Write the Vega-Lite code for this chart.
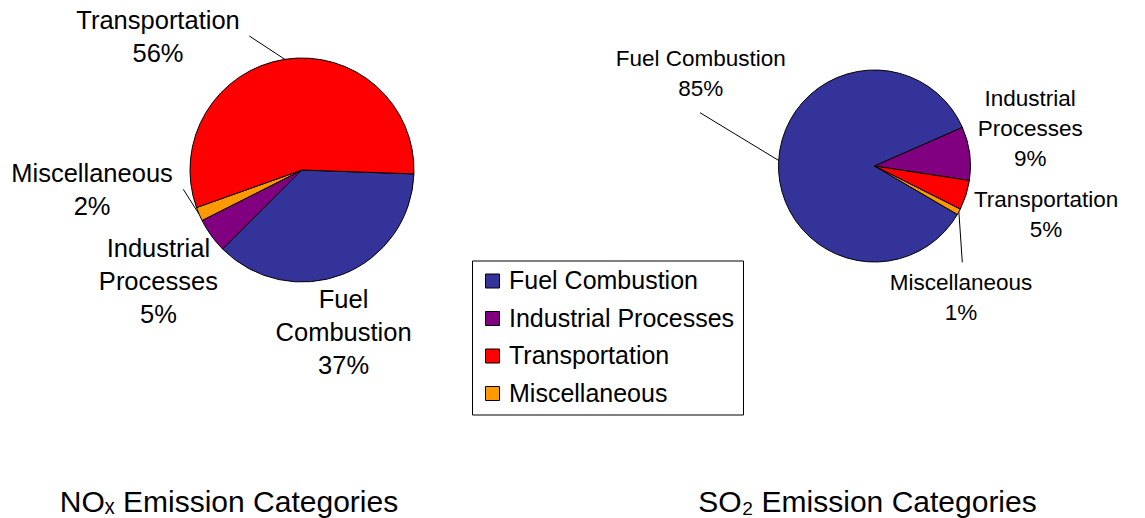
{
  "$schema": "https://vega.github.io/schema/vega-lite/v6.json",
  "background": "white",
  "padding": 0,
  "spacing": 0,
  "bounds": "flush",
  "config": {"view": {"stroke": null}, "font": "Liberation Sans"},
  "datasets": {
    "nox": [
      {"category": "Fuel Combustion", "value": 37},
      {"category": "Industrial Processes", "value": 5},
      {"category": "Miscellaneous", "value": 2},
      {"category": "Transportation", "value": 56}
    ],
    "so2": [
      {"category": "Fuel Combustion", "value": 85},
      {"category": "Industrial Processes", "value": 9},
      {"category": "Transportation", "value": 5},
      {"category": "Miscellaneous", "value": 1}
    ]
  },
  "resolve": {"scale": {"theta": "independent", "x": "independent", "y": "independent"}},
  "hconcat": [
    {
      "width": 604,
      "height": 340,
      "data": {"name": "nox"},
      "transform": [
        {"window": [{"op": "row_number", "as": "idx"}]},
        {"stack": "value", "groupby": [], "sort": [{"field": "idx", "order": "ascending"}], "as": ["v0", "v1"]},
        {"calculate": "(datum.v0 + datum.v1) / 2", "as": "mid"},
        {"calculate": "1.6057 + datum.mid * PI / 50", "as": "ang"},
        {"calculate": "112 * sin(datum.ang)", "as": "ex"},
        {"calculate": "-112 * cos(datum.ang)", "as": "ey"},
        {"calculate": "replace(datum.category, ' ', '|') + '|' + datum.value + '%'", "as": "label"}
      ],
      "title": {"text": "NOₓ Emission Categories", "orient": "bottom", "frame": "group", "anchor": "middle", "offset": 132.6, "dx": -73, "baseline": "alphabetic", "fontSize": 30, "fontWeight": "normal", "color": "black"},
      "layer": [
        {
          "mark": {"type": "arc", "outerRadius": 112, "stroke": "black", "strokeWidth": 1},
          "encoding": {
            "theta": {"field": "v0", "type": "quantitative", "stack": null, "scale": {"domain": [0, 100], "range": [1.6057, 7.8889]}},
            "theta2": {"field": "v1"},
            "color": {
              "field": "category", "type": "nominal",
              "scale": {"domain": ["Fuel Combustion", "Industrial Processes", "Transportation", "Miscellaneous"], "range": ["#333399", "#800080", "#FF0000", "#FF9900"]},
              "legend": {"title": null, "orient": "none", "legendX": 472, "legendY": 260.5, "symbolType": "square", "symbolSize": 196, "symbolStrokeColor": "black", "symbolStrokeWidth": 1, "labelFontSize": 25, "labelColor": "black", "strokeColor": "black", "fillColor": "white", "padding": 8, "rowPadding": 11.5, "labelOffset": 4, "labelLimit": 400}
            }
          }
        },
        {
          "transform": [{"filter": "datum.category == 'Fuel Combustion'"}],
          "mark": {"type": "text", "radius": 166, "dx": -19, "dy": -25, "fontSize": 25.5, "lineHeight": 33, "lineBreak": "|", "align": "center", "baseline": "middle", "color": "black"},
          "encoding": {"theta": {"field": "mid", "type": "quantitative", "stack": null}, "text": {"field": "label"}}
        },
        {
          "transform": [{"filter": "datum.category == 'Industrial Processes'"}],
          "mark": {"type": "text", "radius": 182, "dx": 4, "dy": -27.5, "fontSize": 25.5, "lineHeight": 33, "lineBreak": "|", "align": "center", "baseline": "middle", "color": "black"},
          "encoding": {"theta": {"field": "mid", "type": "quantitative", "stack": null}, "text": {"field": "label"}}
        },
        {
          "transform": [{"filter": "datum.category == 'Miscellaneous'"}],
          "mark": {"type": "text", "radius": 211, "dx": -16, "dy": -79, "fontSize": 25.5, "lineHeight": 33, "lineBreak": "|", "align": "center", "baseline": "middle", "color": "black"},
          "encoding": {"theta": {"field": "mid", "type": "quantitative", "stack": null}, "text": {"field": "label"}}
        },
        {
          "transform": [{"filter": "datum.category == 'Transportation'"}],
          "mark": {"type": "text", "radius": 196, "dx": -114, "dy": 44.5, "fontSize": 25.5, "lineHeight": 33, "lineBreak": "|", "align": "center", "baseline": "middle", "color": "black"},
          "encoding": {"theta": {"field": "mid", "type": "quantitative", "stack": null}, "text": {"field": "label"}}
        },
        {
          "transform": [{"filter": "datum.category == 'Transportation'"}],
          "mark": {"type": "rule", "color": "black", "strokeWidth": 1},
          "encoding": {
            "x": {"field": "ex", "type": "quantitative", "scale": {"domain": [-302, 302], "nice": false, "zero": false}, "axis": null},
            "y": {"field": "ey", "type": "quantitative", "scale": {"domain": [-170, 170], "nice": false, "zero": false, "reverse": true}, "axis": null},
            "x2": {"datum": -52.7},
            "y2": {"datum": -134}
          }
        },
        {
          "transform": [{"filter": "datum.category == 'Miscellaneous'"}],
          "mark": {"type": "rule", "color": "black", "strokeWidth": 1},
          "encoding": {
            "x": {"field": "ex", "type": "quantitative"},
            "y": {"field": "ey", "type": "quantitative"},
            "x2": {"datum": -118.7},
            "y2": {"datum": 19.3}
          }
        }
      ]
    },
    {
      "width": 541,
      "height": 332,
      "data": {"name": "so2"},
      "transform": [
        {"window": [{"op": "row_number", "as": "idx"}]},
        {"stack": "value", "groupby": [], "sort": [{"field": "idx", "order": "ascending"}], "as": ["v0", "v1"]},
        {"calculate": "(datum.v0 + datum.v1) / 2", "as": "mid"},
        {"calculate": "2.0996 + datum.mid * PI / 50", "as": "ang"},
        {"calculate": "96 * sin(datum.ang)", "as": "ex"},
        {"calculate": "-96 * cos(datum.ang)", "as": "ey"},
        {"calculate": "(datum.category == 'Industrial Processes' ? 'Industrial|Processes' : datum.category) + '|' + datum.value + '%'", "as": "label"}
      ],
      "title": {"text": "SO₂ Emission Categories", "orient": "bottom", "frame": "group", "anchor": "middle", "offset": 179.7, "dx": -7, "baseline": "alphabetic", "fontSize": 30, "fontWeight": "normal", "color": "black"},
      "layer": [
        {
          "mark": {"type": "arc", "outerRadius": 96, "stroke": "black", "strokeWidth": 1},
          "encoding": {
            "theta": {"field": "v0", "type": "quantitative", "stack": null, "scale": {"domain": [0, 100], "range": [2.0996, 8.3828]}},
            "theta2": {"field": "v1"},
            "color": {"field": "category", "type": "nominal"}
          }
        },
        {
          "transform": [{"filter": "datum.category == 'Fuel Combustion'"}],
          "mark": {"type": "text", "radius": 175, "dx": 1, "dy": -96.7, "fontSize": 22.5, "lineHeight": 30, "lineBreak": "|", "align": "center", "baseline": "middle", "color": "black"},
          "encoding": {"theta": {"field": "mid", "type": "quantitative", "stack": null}, "text": {"field": "label"}}
        },
        {
          "transform": [{"filter": "datum.category == 'Industrial Processes'"}],
          "mark": {"type": "text", "radius": 157, "dx": 0, "dy": -46.5, "fontSize": 22.5, "lineHeight": 30, "lineBreak": "|", "align": "center", "baseline": "middle", "color": "black"},
          "encoding": {"theta": {"field": "mid", "type": "quantitative", "stack": null}, "text": {"field": "label"}}
        },
        {
          "transform": [{"filter": "datum.category == 'Transportation'"}],
          "mark": {"type": "text", "radius": 178, "dx": 2, "dy": -20.4, "fontSize": 22.5, "lineHeight": 30, "lineBreak": "|", "align": "center", "baseline": "middle", "color": "black"},
          "encoding": {"theta": {"field": "mid", "type": "quantitative", "stack": null}, "text": {"field": "label"}}
        },
        {
          "transform": [{"filter": "datum.category == 'Miscellaneous'"}],
          "mark": {"type": "text", "radius": 157, "dx": -51.5, "dy": 42, "fontSize": 22.5, "lineHeight": 30, "lineBreak": "|", "align": "center", "baseline": "middle", "color": "black"},
          "encoding": {"theta": {"field": "mid", "type": "quantitative", "stack": null}, "text": {"field": "label"}}
        },
        {
          "transform": [{"filter": "datum.category == 'Fuel Combustion'"}],
          "mark": {"type": "rule", "color": "black", "strokeWidth": 1},
          "encoding": {
            "x": {"field": "ex", "type": "quantitative", "scale": {"domain": [-270.5, 270.5], "nice": false, "zero": false}, "axis": null},
            "y": {"field": "ey", "type": "quantitative", "scale": {"domain": [-166, 166], "nice": false, "zero": false, "reverse": true}, "axis": null},
            "x2": {"datum": -174.5},
            "y2": {"datum": -53.3}
          }
        },
        {
          "transform": [{"filter": "datum.category == 'Miscellaneous'"}],
          "mark": {"type": "rule", "color": "black", "strokeWidth": 1},
          "encoding": {
            "x": {"field": "ex", "type": "quantitative"},
            "y": {"field": "ey", "type": "quantitative"},
            "x2": {"datum": 87.8},
            "y2": {"datum": 96.3}
          }
        }
      ]
    }
  ]
}
